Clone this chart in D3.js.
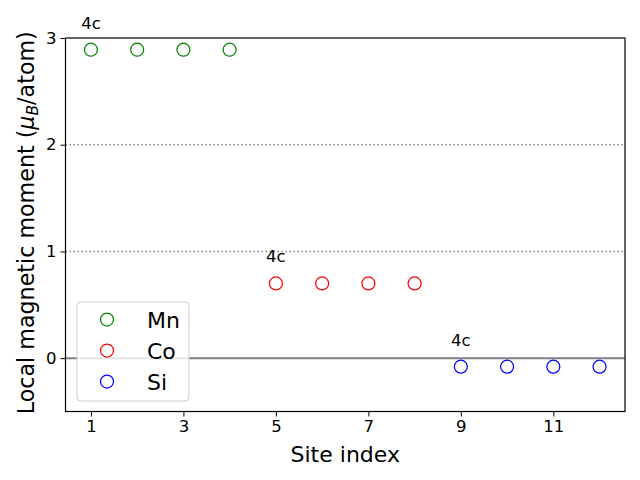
<!DOCTYPE html>
<html><head><meta charset="utf-8">
<script src="https://cdn.jsdelivr.net/npm/d3@7"></script>
<style>body{margin:0;background:#fff}svg{display:block;font-family:"DejaVu Sans",sans-serif}</style>
</head><body><svg id="c" width="640" height="480"></svg>
<script>
const mnSites=[1,2,3,4], mnVals=[2.89,2.89,2.89,2.89];
const coSites=[5,6,7,8], coVals=[0.70,0.70,0.70,0.70];
const siSites=[9,10,11,12], siVals=[-0.08,-0.08,-0.08,-0.08];
const series=[{name:"Mn",color:"green",x:mnSites,y:mnVals},{name:"Co",color:"red",x:coSites,y:coVals},{name:"Si",color:"blue",x:siSites,y:siVals}];
const xTicks=[1,3,5,7,9,11], yTicks=[0,1,2,3];
const refLines=[1,2];
const siteLabels=[{x:1,y:2.89,t:"4c"},{x:5,y:0.70,t:"4c"},{x:9,y:-0.08,t:"4c"}];

const L=65.5,R=625,T=38,B=411.5;
const svg=d3.select("#c");
const x=d3.scaleLinear().domain([0.45,12.55]).range([L,R]);
const y=d3.scaleLinear().domain([-0.5,3]).range([B,T]);

svg.selectAll(".ref").data(refLines).enter().append("line")
 .attr("x1",L).attr("x2",R).attr("y1",d=>y(d)).attr("y2",d=>y(d))
 .attr("stroke","#808080").attr("stroke-width",1.5).attr("stroke-dasharray","1.5,2.5");
svg.append("line").attr("x1",L).attr("x2",R).attr("y1",y(0)).attr("y2",y(0))
 .attr("stroke","#808080").attr("stroke-width",2);

series.forEach(s=>{
 svg.append("g").selectAll("circle").data(s.x.map((v,i)=>[v,s.y[i]])).enter().append("circle")
  .attr("cx",d=>x(d[0])).attr("cy",d=>y(d[1])).attr("r",6.5)
  .attr("fill","none").attr("stroke",s.color).attr("stroke-width",1.25);
});

svg.selectAll(".lbl").data(siteLabels).enter().append("text")
 .attr("x",d=>x(d.x)).attr("y",d=>y(d.y)-21).attr("text-anchor","middle")
 .attr("font-size",16.5).text(d=>d.t);

const xa=svg.append("g").attr("transform",`translate(0,${B})`)
 .call(d3.axisBottom(x).tickValues(xTicks).tickSize(5).tickPadding(4).tickFormat(d3.format("d")));
const ya=svg.append("g").attr("transform",`translate(${L},0)`)
 .call(d3.axisLeft(y).tickValues(yTicks).tickSize(5).tickPadding(4).tickFormat(d3.format("d")));
[xa,ya].forEach(a=>{a.select(".domain").remove();a.selectAll("text").attr("font-size",16.5).attr("fill","#000").attr("font-family","DejaVu Sans");a.selectAll("line").attr("stroke","#000").attr("stroke-width",1)});
svg.append("rect").attr("x",L).attr("y",T).attr("width",R-L).attr("height",B-T)
 .attr("fill","none").attr("stroke","#000").attr("stroke-width",1.2);

svg.append("text").attr("x",(L+R)/2).attr("y",462).attr("text-anchor","middle")
 .attr("font-size",22).text("Site index");
const yl=svg.append("text").attr("transform",`translate(34,${(T+B)/2-2}) rotate(-90)`)
 .attr("text-anchor","middle").attr("font-size",22.2);
yl.append("tspan").text("Local magnetic moment (");
yl.append("tspan").attr("font-style","italic").text("μ");
yl.append("tspan").attr("font-style","italic").attr("font-size",15.5).attr("dy",4).text("B");
yl.append("tspan").attr("dy",-4).text("/atom)");

const lg=svg.append("g");
lg.append("rect").attr("x",77).attr("y",302).attr("width",112).attr("height",99).attr("rx",4)
 .attr("fill","white").attr("fill-opacity",0.8).attr("stroke","#ccc").attr("stroke-width",1);
series.forEach((s,i)=>{
 const cy=319.5+i*31;
 lg.append("circle").attr("cx",107).attr("cy",cy).attr("r",6.5).attr("fill","none").attr("stroke",s.color).attr("stroke-width",1.25);
 lg.append("text").attr("x",147).attr("y",cy+8).attr("font-size",22).text(s.name);
});
</script></body></html>
